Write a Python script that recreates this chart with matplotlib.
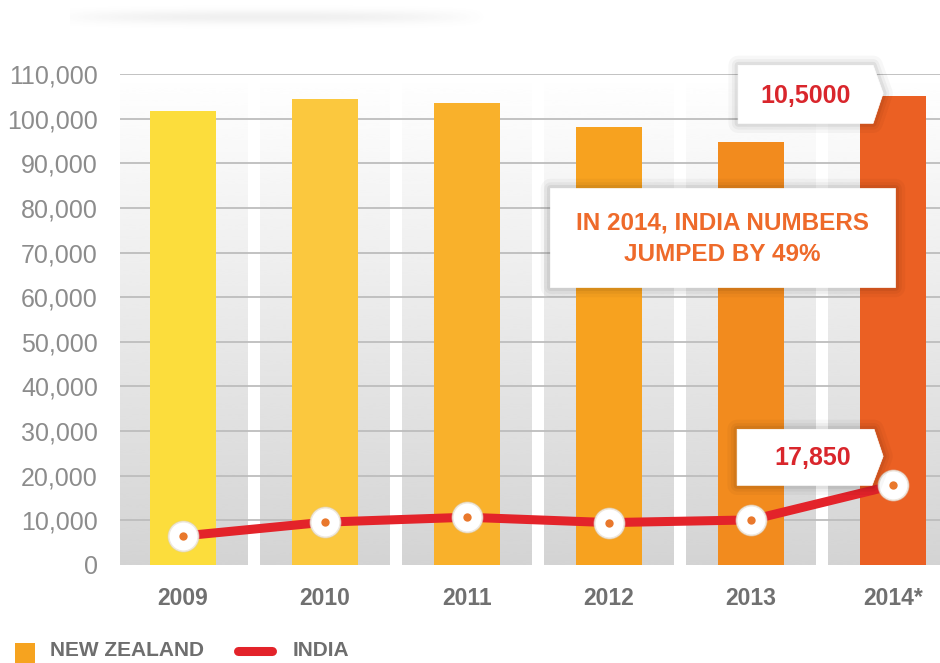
import numpy as np
import matplotlib
matplotlib.use("Agg")
import matplotlib.pyplot as plt
from matplotlib.patches import Polygon, Rectangle
from matplotlib.lines import Line2D
import matplotlib.patheffects as pe

# ---- data -------------------------------------------------------------
years = ["2009", "2010", "2011", "2012", "2013", "2014*"]
new_zealand = [101800, 104500, 103600, 98200, 94800, 105000]
india = [6500, 9600, 10700, 9500, 10100, 17850]
bar_colors = ["#FCDD3C", "#FBC83E", "#F9B12B", "#F7A21F", "#F28B1E", "#EB6023"]
yticks = list(range(0, 110001, 10000))

NZ_LABEL = "10,5000"
INDIA_LABEL = "17,850"
NOTE = "IN 2014, INDIA NUMBERS\nJUMPED BY 49%"

plt.rcParams["font.family"] = ["Liberation Sans", "DejaVu Sans"]

W, H = 940, 663
fig = plt.figure(figsize=(W / 100, H / 100), dpi=100)
fig.patch.set_facecolor("white")

ax = fig.add_axes([120 / W, 98 / H, 820 / W, (565 - 74) / H])
x = np.arange(len(years))
bw = 0.465
xl = (-0.444, 5.33)
ax.set_xlim(*xl)
ax.set_ylim(0, 110000)

# grey vertical gradient behind the bars
grad = np.linspace(0.83, 1.0, 256).reshape(-1, 1)
ax.imshow(grad, extent=[xl[0], xl[1], 0, 110000], origin="lower", aspect="auto",
          cmap="gray", vmin=0, vmax=1, zorder=0, interpolation="bicubic")

# white separators between the columns
ax.bar(x[:-1] + 0.5, 110000, width=0.085, bottom=0, color="white", zorder=1, linewidth=0)

# gridlines
for yv in yticks[1:]:
    ax.axhline(yv, color="#bdbdbd", lw=1.3, zorder=2)

# New Zealand bars
ax.bar(x, new_zealand, width=bw, color=bar_colors, zorder=3, linewidth=0)

# India line with ring markers
ax.plot(x, india, color="#E3232A", lw=6.5, zorder=5, solid_capstyle="round",
        solid_joinstyle="round")
ax.plot(x, india, "o", ms=23, mfc="#d9d2c8", mec="none", alpha=0.6, zorder=6)
ax.plot(x, india, "o", ms=21, mfc="white", mec="#eee8e0", mew=1.0, zorder=6)
ax.plot(x, india, "o", ms=6, mfc="#E9782C", mec="none", zorder=7)

# axes styling
for s in ax.spines.values():
    s.set_visible(False)
ax.set_yticks(yticks)
ax.set_yticklabels([f"{v:,}" for v in yticks], fontsize=18, color="#8c8c8c")
ax.set_xticks(x)
ax.set_xticklabels(years, fontsize=16.5, fontweight="bold", color="#707070")
ax.tick_params(axis="both", length=0)
ax.tick_params(axis="y", pad=16)
ax.tick_params(axis="x", pad=16)

fig.canvas.draw()
to_data = ax.transData.inverted()


def px(pxx, pyy):
    """image pixel (top-left origin) -> data coordinates"""
    return to_data.transform((pxx, H - pyy))


def anchor_px(xv, yv):
    dx, dy = ax.transData.transform((xv, yv))
    return dx, H - dy


glow = [pe.Stroke(linewidth=14, foreground="#000000", alpha=0.03),
        pe.Stroke(linewidth=9, foreground="#000000", alpha=0.04),
        pe.Stroke(linewidth=5, foreground="#000000", alpha=0.06),
        pe.Normal()]


def callout(verts_px, text, tx, ty, color, size):
    pts = [px(a, b) for a, b in verts_px]
    poly = Polygon(pts, closed=True, facecolor="white", edgecolor="white", lw=0.5,
                   zorder=8, clip_on=False, joinstyle="round")
    poly.set_path_effects(glow)
    ax.add_patch(poly)
    tdx, tdy = px(tx, ty)
    ax.text(tdx, tdy, text, ha="center", va="center", fontsize=size,
            fontweight="bold", color=color, zorder=9, clip_on=False,
            linespacing=1.5)


# callout for the 2014 New Zealand bar
ax_, ay_ = anchor_px(x[-1], new_zealand[-1])
callout([(ax_ - 155, ay_ - 31), (ax_ - 20, ay_ - 31), (ax_ - 10, ay_ - 3),
         (ax_ - 20, ay_ + 27), (ax_ - 155, ay_ + 27)],
        NZ_LABEL, ax_ - 88, ay_ + 0, "#D9262C", 18)

# callout for the 2014 India point
bx_, by_ = anchor_px(x[-1], india[-1])
callout([(bx_ - 156, by_ - 56), (bx_ - 19, by_ - 56), (bx_ - 10, by_ - 29),
         (bx_ - 21, by_ + 0), (bx_ - 156, by_ + 0)],
        INDIA_LABEL, bx_ - 80, by_ - 27, "#D9262C", 18)

# growth note
callout([(550, 188), (895, 188), (895, 287), (550, 287)],
        NOTE, 722, 239, "#EE6A2A", 17.5)

# faint shadow strip along the top edge
sh_w, sh_h = 440, 34
yy = np.linspace(-1, 1, sh_h).reshape(-1, 1)
xx = np.linspace(-1, 1, sh_w).reshape(1, -1)
alpha = np.exp(-(yy / 0.4) ** 2) * np.clip(1 - np.abs(xx + 0.1) ** 2.5, 0, 1) * 0.09
img = np.zeros((sh_h, sh_w, 4))
img[..., :3] = 0.35
img[..., 3] = alpha
sax = fig.add_axes([70 / W, 1 - 34 / H, sh_w / W, sh_h / H])
sax.imshow(img, aspect="auto", interpolation="bilinear")
sax.axis("off")

# legend
fig.patches.append(Rectangle((15 / W, 0), 20 / W, 20 / H, transform=fig.transFigure,
                             facecolor="#F6A31F", edgecolor="none"))
fig.text(50 / W, 12 / H, "NEW ZEALAND", fontsize=15, fontweight="bold",
         color="#6e6e6e", va="center", ha="left")
fig.lines.append(Line2D([238 / W, 272 / W], [12 / H, 12 / H], transform=fig.transFigure,
                        color="#E3232A", lw=6.5, solid_capstyle="round"))
fig.text(293 / W, 12 / H, "INDIA", fontsize=15, fontweight="bold",
         color="#6e6e6e", va="center", ha="left")

fig.savefig("out.png", dpi=100, facecolor="white")
